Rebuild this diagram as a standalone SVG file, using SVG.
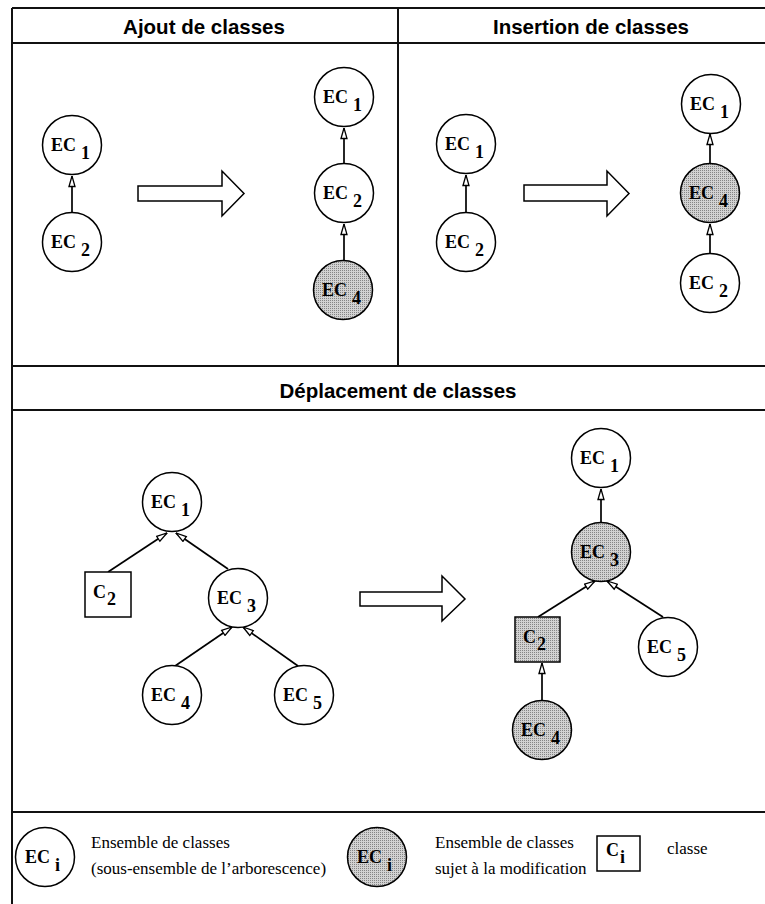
<svg xmlns="http://www.w3.org/2000/svg" width="765" height="904" viewBox="0 0 765 904">
<style>
.frame{stroke:#111;stroke-width:2;fill:none}
.hdr{font-family:"Liberation Sans",Arial,sans-serif;font-weight:bold;font-size:20.5px;text-anchor:middle;fill:#000}
.node{stroke:#000;stroke-width:1.5;fill:#fff}
.mod{stroke:#000;stroke-width:1.5;fill:url(#stip)}
.lbl{font-family:"Liberation Serif","Times New Roman",serif;font-weight:bold;font-size:18px;fill:#000}
.leg{font-family:"Liberation Serif","Times New Roman",serif;font-size:17px;fill:#000}
.edge{stroke:#000;stroke-width:1.7;fill:none;marker-end:url(#tri)}
.big{stroke:#000;stroke-width:1.5;fill:#fff}
</style>
<defs>
<pattern id="stip" width="2" height="2" patternUnits="userSpaceOnUse">
<rect width="2" height="2" fill="#d2d2d2"/>
<rect width="1" height="1" fill="#858585"/>
</pattern>
<marker id="tri" viewBox="0 0 12 8" refX="11.5" refY="4" markerWidth="12" markerHeight="8" markerUnits="userSpaceOnUse" orient="auto">
<path d="M1,1 L11.5,4 L1,7 Z" fill="#fff" stroke="#000" stroke-width="1.3"/>
</marker>
</defs>
<rect width="765" height="904" fill="#fff"/>

<g id="frame">
<path class="frame" d="M12,8 H765 M12,8 V904 M12,43 H765 M398,8 V366 M12,366 H765 M12,410 H765 M12,812 H765"/>
<text class="hdr" x="204" y="34">Ajout de classes</text>
<text class="hdr" x="591" y="34">Insertion de classes</text>
<text class="hdr" x="398" y="398">Déplacement de classes</text>
</g>

<g id="connectors">
<path class="edge" d="M72,212 V176"/>
<path class="edge" d="M344,163 V128"/>
<path class="edge" d="M344,260 V224"/>
<path class="edge" d="M466,212 V175"/>
<path class="edge" d="M710,163 V134"/>
<path class="edge" d="M710,253 V224"/>
<path class="edge" d="M108,572 L167,533"/>
<path class="edge" d="M228,569 L176,533"/>
<path class="edge" d="M175,666 L232,627"/>
<path class="edge" d="M298,666 L243,627"/>
<path class="edge" d="M601,522 V489"/>
<path class="edge" d="M538,617 L595,581"/>
<path class="edge" d="M663,617 L607,581"/>
<path class="edge" d="M542,700 V663"/>
</g>

<g id="bigarrows">
<path class="big" d="M138,186 H222 V171 L244,193.5 L222,216 V201 H138 Z"/>
<path class="big" d="M524,185 H607 V171 L629,193.5 L607,216 V201 H524 Z"/>
<path class="big" d="M360,592 H442 V576 L465,599 L442,621 V606 H360 Z"/>
</g>

<g id="a-ec1"><circle class="node" cx="72" cy="145" r="29.5"/><text class="lbl" x="51" y="151">EC<tspan dx="5" dy="8">1</tspan></text></g>
<g id="a-ec2"><circle class="node" cx="72" cy="242" r="29.5"/><text class="lbl" x="51" y="248">EC<tspan dx="5" dy="8">2</tspan></text></g>
<g id="a-r-ec1"><circle class="node" cx="344" cy="97" r="29.5"/><text class="lbl" x="323" y="103">EC<tspan dx="5" dy="8">1</tspan></text></g>
<g id="a-r-ec2"><circle class="node" cx="344" cy="193" r="29.5"/><text class="lbl" x="323" y="199">EC<tspan dx="5" dy="8">2</tspan></text></g>
<g id="a-r-ec4"><circle class="mod" cx="343" cy="290" r="29.5"/><text class="lbl" x="322" y="296">EC<tspan dx="5" dy="8">4</tspan></text></g>

<g id="i-ec1"><circle class="node" cx="466" cy="144" r="29.5"/><text class="lbl" x="445" y="150">EC<tspan dx="5" dy="8">1</tspan></text></g>
<g id="i-ec2"><circle class="node" cx="466" cy="242" r="29.5"/><text class="lbl" x="445" y="248">EC<tspan dx="5" dy="8">2</tspan></text></g>
<g id="i-r-ec1"><circle class="node" cx="711" cy="104" r="29.5"/><text class="lbl" x="690" y="110">EC<tspan dx="5" dy="8">1</tspan></text></g>
<g id="i-r-ec4"><circle class="mod" cx="710" cy="193" r="29.5"/><text class="lbl" x="689" y="199">EC<tspan dx="5" dy="8">4</tspan></text></g>
<g id="i-r-ec2"><circle class="node" cx="710" cy="283" r="29.5"/><text class="lbl" x="689" y="289">EC<tspan dx="5" dy="8">2</tspan></text></g>

<g id="d-ec1"><circle class="node" cx="172" cy="502" r="29.5"/><text class="lbl" x="151" y="508">EC<tspan dx="5" dy="8">1</tspan></text></g>
<g id="d-c2"><rect class="node" x="85" y="572" width="46" height="45"/><text class="lbl" x="93" y="598">C<tspan dx="1" dy="7">2</tspan></text></g>
<g id="d-ec3"><circle class="node" cx="238" cy="598" r="29.5"/><text class="lbl" x="217" y="604">EC<tspan dx="5" dy="8">3</tspan></text></g>
<g id="d-ec4"><circle class="node" cx="172" cy="695" r="29.5"/><text class="lbl" x="151" y="701">EC<tspan dx="5" dy="8">4</tspan></text></g>
<g id="d-ec5"><circle class="node" cx="304" cy="695" r="29.5"/><text class="lbl" x="283" y="701">EC<tspan dx="5" dy="8">5</tspan></text></g>

<g id="d-r-ec1"><circle class="node" cx="601" cy="458" r="29.5"/><text class="lbl" x="580" y="464">EC<tspan dx="5" dy="8">1</tspan></text></g>
<g id="d-r-ec3"><circle class="mod" cx="601" cy="552" r="29.5"/><text class="lbl" x="580" y="558">EC<tspan dx="5" dy="8">3</tspan></text></g>
<g id="d-r-c2"><rect class="mod" x="515" y="617" width="45" height="45"/><text class="lbl" x="523" y="643">C<tspan dx="1" dy="7">2</tspan></text></g>
<g id="d-r-ec5"><circle class="node" cx="668" cy="647" r="29.5"/><text class="lbl" x="647" y="653">EC<tspan dx="5" dy="8">5</tspan></text></g>
<g id="d-r-ec4"><circle class="mod" cx="542" cy="730" r="29.5"/><text class="lbl" x="521" y="736">EC<tspan dx="5" dy="8">4</tspan></text></g>

<g id="legend-ec"><circle class="node" cx="45" cy="857" r="29.5"/><text class="lbl" x="25" y="863">EC<tspan dx="5" dy="8">i</tspan></text>
<text class="leg" x="91" y="848">Ensemble de classes</text><text class="leg" x="91" y="874">(sous-ensemble de l’arborescence)</text></g>
<g id="legend-mod"><circle class="mod" cx="377" cy="857" r="29.5"/><text class="lbl" x="357" y="863">EC<tspan dx="5" dy="8">i</tspan></text>
<text class="leg" x="435" y="848">Ensemble de classes</text><text class="leg" x="435" y="874">sujet à la modification</text></g>
<g id="legend-c"><rect class="node" x="597" y="836" width="43" height="35"/><text class="lbl" x="606" y="856">C<tspan dx="1" dy="7">i</tspan></text>
<text class="leg" x="667" y="854">classe</text></g>
</svg>
